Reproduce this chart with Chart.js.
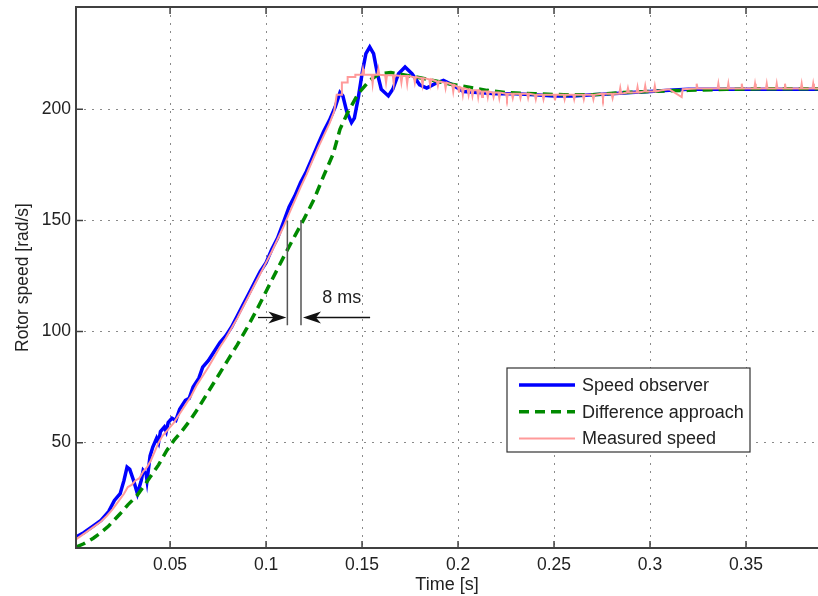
<!DOCTYPE html>
<html>
<head>
<meta charset="utf-8">
<script src="https://cdn.jsdelivr.net/npm/chart.js@4.4.1/dist/chart.umd.min.js"></script>
<style>
  html, body { margin: 0; padding: 0; background: #fff; }
  #wrap { width: 818px; height: 596px; }
</style>
</head>
<body>
<div id="wrap"><canvas id="speedChart" width="818" height="596"></canvas></div>
<script>
// Tick labels
const xTicks = [0.05, 0.1, 0.15, 0.2, 0.25, 0.3, 0.35];
const yTicks = [50, 100, 150, 200];

// Speed observer (blue)
const observerT = [0.001, 0.005, 0.010, 0.014, 0.018, 0.021, 0.024, 0.026, 0.0276, 0.029, 0.031, 0.033, 0.035, 0.036, 0.0375, 0.038, 0.0396, 0.041, 0.043, 0.044, 0.045, 0.047, 0.048, 0.049, 0.051, 0.053, 0.055, 0.058, 0.060, 0.062, 0.065, 0.067, 0.070, 0.073, 0.076, 0.079, 0.082, 0.085, 0.088, 0.091, 0.094, 0.097, 0.100, 0.103, 0.106, 0.109, 0.112, 0.115, 0.118, 0.121, 0.124, 0.127, 0.130, 0.133, 0.136, 0.1385, 0.140, 0.142, 0.1445, 0.146, 0.148, 0.150, 0.152, 0.154, 0.156, 0.158, 0.160, 0.1637, 0.166, 0.169, 0.1724, 0.176, 0.180, 0.1837, 0.188, 0.1924, 0.197, 0.2028, 0.21, 0.22, 0.23, 0.24, 0.25, 0.26, 0.27, 0.28, 0.29, 0.30, 0.31, 0.32, 0.33, 0.34, 0.35, 0.36, 0.37, 0.38, 0.388];
const observerV = [7.5, 9.5, 12.5, 15, 19, 24, 27, 33, 39, 38, 33, 27, 33, 37.5, 36, 33, 44, 48, 52, 50, 55, 57, 55, 59, 61, 60, 65, 69, 70, 75, 79, 84, 87, 91, 95, 98, 102, 107, 112, 117, 122, 127, 131, 137, 142, 149, 156, 161, 167, 172, 178, 184, 190, 195, 201, 207.5, 206, 199, 194, 196, 205, 216, 225, 228, 225, 216, 209, 206, 209, 216, 219, 216, 211, 209.5, 211.5, 213, 211, 208, 207.5, 207, 207, 206.5, 206, 206, 206.5, 207, 207.5, 208, 208.5, 209, 209, 209, 209, 209, 209, 209, 209];

// Difference approach (green dashed)
const diffT = [0.001, 0.005, 0.010, 0.0135, 0.018, 0.024, 0.028, 0.0326, 0.036, 0.0396, 0.044, 0.0483, 0.052, 0.056, 0.0604, 0.065, 0.070, 0.075, 0.080, 0.085, 0.090, 0.095, 0.100, 0.105, 0.110, 0.115, 0.120, 0.125, 0.130, 0.135, 0.1385, 0.1427, 0.148, 0.154, 0.159, 0.165, 0.175, 0.187, 0.195, 0.205, 0.215, 0.225, 0.24, 0.255, 0.27, 0.285, 0.30, 0.32, 0.34, 0.36, 0.388];
const diffV = [3, 4.5, 7, 9.2, 12.5, 18, 22, 26, 30, 34.5, 40, 46.5, 51, 55, 60, 66, 73, 80, 87, 94, 101.5, 109.5, 118, 126.5, 135, 143, 151, 159.5, 170, 180, 191, 198.8, 207, 213, 216, 216.5, 215, 213, 211.5, 210, 208.5, 207.5, 207, 206.5, 206.5, 207.5, 208, 208.5, 209, 209.2, 209.2];

// Measured speed (pink)
const measuredT = [0.001, 0.006, 0.010, 0.014, 0.017, 0.020, 0.023, 0.026, 0.028, 0.030, 0.032, 0.034, 0.036, 0.038, 0.040, 0.042, 0.044, 0.046, 0.048, 0.050, 0.052, 0.055, 0.058, 0.061, 0.064, 0.067, 0.070, 0.073, 0.076, 0.079, 0.082, 0.085, 0.088, 0.091, 0.094, 0.097, 0.100, 0.103, 0.106, 0.109, 0.112, 0.115, 0.118, 0.121, 0.124, 0.127, 0.130, 0.133, 0.1355, 0.1368, 0.1395, 0.1395, 0.1425, 0.1425, 0.1465, 0.1465,
  0.150, 0.1505, 0.151, 0.155, 0.1555, 0.156, 0.158, 0.1585, 0.159, 0.162, 0.1625, 0.163, 0.166, 0.1665, 0.167, 0.170, 0.1705, 0.171, 0.173, 0.1735, 0.174, 0.177, 0.1775, 0.178, 0.181, 0.1815, 0.182, 0.185, 0.1855, 0.186, 0.189, 0.1895, 0.190, 0.193, 0.1935, 0.194, 0.197, 0.1975, 0.198, 0.200, 0.2005, 0.201, 0.202, 0.2025, 0.203, 0.205, 0.2055, 0.206, 0.207, 0.2075, 0.208, 0.210, 0.2105, 0.211, 0.212, 0.2125, 0.213, 0.215, 0.2155, 0.216, 0.218, 0.2185, 0.219, 0.221, 0.2215, 0.222, 0.225, 0.2255, 0.226, 0.228, 0.2285, 0.229, 0.232, 0.2325, 0.233, 0.236, 0.2365, 0.237, 0.240, 0.2405, 0.241, 0.244, 0.2445, 0.245, 0.250, 0.2505, 0.251, 0.255, 0.2555, 0.256, 0.260, 0.2605, 0.261, 0.265, 0.2655, 0.266, 0.270, 0.2705, 0.271, 0.275, 0.2755, 0.276, 0.280, 0.2805, 0.281, 0.284, 0.2845, 0.285, 0.288, 0.2885, 0.289, 0.293, 0.2935, 0.294, 0.297, 0.2975, 0.298, 0.302, 0.3025, 0.303, 0.306, 0.310, 0.3165, 0.317, 0.324, 0.3243, 0.3248, 0.3352, 0.3356, 0.336, 0.3404, 0.3408, 0.3412, 0.3474, 0.3478, 0.3482, 0.3543, 0.3547, 0.3551, 0.3604, 0.3608, 0.3612, 0.3656, 0.366, 0.3664, 0.3699, 0.3703, 0.3707, 0.3786, 0.379, 0.3794, 0.3846, 0.385, 0.3854, 0.388];
const measuredV = [6.5, 9.5, 12, 14.5, 17, 20, 23.5, 27, 30, 31, 33, 34, 37, 39, 42, 46, 50, 53, 55, 57, 59, 63, 67, 71, 76, 80, 84, 88.5, 93, 97, 101.5, 106, 111, 116, 121, 126, 131, 136, 141.5, 147, 153, 159, 165, 170.5, 176.5, 182.5, 188, 193.5, 199, 206.5, 206.5, 212, 212, 214.5, 214.5, 215.5,
  215.5, 218, 215.5, 215.5, 211.5, 215.5, 215.5, 218, 215.5, 215.3, 212, 215.3, 215.3, 211.5, 215.3, 215, 212, 215, 215, 211.5, 215, 214.5, 212, 214.5, 214, 211, 214, 213.5, 211, 213.5, 212.5, 210.5, 212.5, 212, 209.5, 212, 211, 208, 211, 210, 207.5, 210, 209.5, 206.5, 209.5, 209, 206.5, 209, 208.5, 206, 208.5, 208.5, 205.5, 208.5, 208, 205.5, 208, 208, 205.5, 208, 207.5, 205.5, 207.5, 207.5, 205, 207.5, 207, 205, 207, 207, 205, 207, 207, 205, 207, 207, 205, 207, 206.5, 204.5, 206.5, 206.5, 204.5, 206.5, 206.5, 204, 206.5, 206.5, 204.5, 206.5, 206.5, 204.5, 206.5, 206.5, 204.5, 206.5, 206.5, 204.5, 206.5, 207, 205, 207, 207, 205, 207, 207, 209.5, 207, 207.5, 209.5, 207.5, 207.5, 210, 207.5, 208, 210.5, 208, 208, 210.5, 208, 208.5, 209, 205.5, 209, 209.3, 211.5, 209.3, 209.3, 211.5, 209.3, 209.3, 211.5, 209.3, 209.3, 211.5, 209.3, 209.3, 211.5, 209.3, 209.3, 211.5, 209.3, 209.3, 211.5, 209.3, 209.3, 211.5, 209.3, 209.3, 211.5, 209.3, 209.3, 211.5, 209.3, 209.3];

// "8 ms" annotation (data coordinates)
const delayLineT = [0.1111, 0.1182];
const delayLineV = [150, 102.8];
const delayArrowV = 106.3;
const delayArrowFromT = [0.0958, 0.1542];
const delayLabel = '8 ms';
const delayLabelT = 0.1394, delayLabelV = 115;

const toPoints = (ts, vs) => ts.map((t, i) => ({ x: t, y: vs[i] }));

const FONT = '"Liberation Sans", Arial, Helvetica, sans-serif';
Chart.defaults.font.family = FONT;
Chart.defaults.color = '#222';

function arrow(ctx, x0, y0, x1, y1) {
  const dir = Math.sign(x1 - x0);
  ctx.beginPath();
  ctx.moveTo(x0, y0);
  ctx.lineTo(x1 - dir * 10, y1);
  ctx.stroke();
  ctx.beginPath();
  ctx.moveTo(x1, y1);
  ctx.lineTo(x1 - dir * 18, y1 - 6);
  ctx.lineTo(x1 - dir * 13, y1);
  ctx.lineTo(x1 - dir * 18, y1 + 6);
  ctx.closePath();
  ctx.fill();
}

const framePlugin = {
  id: 'frame',
  afterDatasetsDraw(chart) {
    const { ctx, chartArea: a, scales: { x, y } } = chart;
    ctx.save();

    // annotation: two vertical markers and arrows
    ctx.strokeStyle = '#555';
    ctx.lineWidth = 1.5;
    ctx.beginPath();
    delayLineT.forEach(t => {
      const px = x.getPixelForValue(t);
      ctx.moveTo(px, y.getPixelForValue(delayLineV[0]));
      ctx.lineTo(px, y.getPixelForValue(delayLineV[1]));
    });
    ctx.stroke();
    ctx.strokeStyle = '#111';
    ctx.fillStyle = '#111';
    ctx.lineWidth = 1.3;
    const ay = y.getPixelForValue(delayArrowV);
    arrow(ctx, x.getPixelForValue(delayArrowFromT[0]), ay, x.getPixelForValue(delayLineT[0]) - 1, ay);
    arrow(ctx, x.getPixelForValue(delayArrowFromT[1]), ay, x.getPixelForValue(delayLineT[1]) + 2, ay);
    ctx.font = '18px ' + FONT;
    ctx.fillStyle = '#222';
    ctx.textAlign = 'center';
    ctx.textBaseline = 'middle';
    ctx.fillText(delayLabel, x.getPixelForValue(delayLabelT), y.getPixelForValue(delayLabelV));

    // inward tick marks
    ctx.strokeStyle = '#404040';
    ctx.lineWidth = 1.5;
    ctx.beginPath();
    xTicks.forEach(t => {
      const px = x.getPixelForValue(t);
      ctx.moveTo(px, a.bottom); ctx.lineTo(px, a.bottom - 7);
      ctx.moveTo(px, a.top); ctx.lineTo(px, a.top + 7);
    });
    yTicks.forEach(v => {
      const py = y.getPixelForValue(v);
      ctx.moveTo(a.left, py); ctx.lineTo(a.left + 7, py);
    });
    ctx.stroke();

    // axes box (right side lies off the picture)
    ctx.lineWidth = 2;
    ctx.beginPath();
    ctx.moveTo(a.right + 2, a.top);
    ctx.lineTo(a.left, a.top);
    ctx.lineTo(a.left, a.bottom);
    ctx.lineTo(a.right + 2, a.bottom);
    ctx.stroke();

    // legend box inside the axes
    const lx = a.left + 431, ly = a.top + 361, lw = 243, lh = 84;
    ctx.fillStyle = '#fff';
    ctx.fillRect(lx, ly, lw, lh);
    ctx.strokeStyle = '#333';
    ctx.lineWidth = 1.2;
    ctx.strokeRect(lx, ly, lw, lh);
    ctx.font = '18px ' + FONT;
    ctx.textAlign = 'left';
    ctx.textBaseline = 'middle';
    const rows = [0, 1, 2];
    rows.forEach(i => {
      const ds = chart.data.datasets[i];
      const ry = ly + 17 + i * 26.7;
      ctx.strokeStyle = ds.borderColor;
      ctx.lineWidth = ds.borderWidth;
      ctx.setLineDash(ds.borderDash || []);
      ctx.beginPath();
      ctx.moveTo(lx + 12, ry);
      ctx.lineTo(lx + 68, ry);
      ctx.stroke();
      ctx.setLineDash([]);
      ctx.fillStyle = '#222';
      ctx.fillText(ds.label, lx + 75, ry + 1);
    });
    ctx.restore();
  }
};

new Chart(document.getElementById('speedChart'), {
  type: 'line',
  data: {
    datasets: [
      {
        label: 'Speed observer',
        data: toPoints(observerT, observerV),
        borderColor: '#0000ff',
        borderWidth: 3.5,
        order: 2
      },
      {
        label: 'Difference approach',
        data: toPoints(diffT, diffV),
        borderColor: '#008a00',
        borderWidth: 3.5,
        borderDash: [10, 6],
        order: 1
      },
      {
        label: 'Measured speed',
        data: toPoints(measuredT, measuredV),
        borderColor: '#ff9a9a',
        borderWidth: 2,
        order: 0
      }
    ]
  },
  options: {
    responsive: false,
    animation: false,
    events: [],
    elements: { point: { radius: 0 }, line: { tension: 0 } },
    layout: { padding: { top: 7, right: 0, left: 0, bottom: 0 } },
    plugins: { legend: { display: false }, tooltip: { enabled: false } },
    scales: {
      x: {
        type: 'linear',
        min: 0.001,
        max: 0.3875,
        afterBuildTicks: s => { s.ticks = xTicks.map(v => ({ value: v })); },
        afterFit: s => { s.height = 48; s.paddingLeft = 0; s.paddingRight = 0; },
        ticks: {
          padding: 7,
          font: { size: 17.5 },
          color: '#222',
          maxRotation: 0,
          autoSkip: false,
          callback: v => String(v)
        },
        grid: { color: '#8a8a8a', lineWidth: 1, drawTicks: false },
        border: { display: false, dash: [2, 6] },
        title: {
          display: true,
          text: 'Time [s]',
          font: { size: 18, lineHeight: 1.2 },
          color: '#222',
          padding: { top: 0, bottom: 0 }
        }
      },
      y: {
        type: 'linear',
        min: 2.6,
        max: 246,
        afterBuildTicks: s => { s.ticks = yTicks.map(v => ({ value: v })); },
        afterFit: s => { s.width = 76; s.paddingTop = 0; s.paddingBottom = 0; },
        ticks: {
          padding: 5,
          font: { size: 17.5 },
          color: '#222',
          callback: v => String(v)
        },
        grid: { color: '#8a8a8a', lineWidth: 1, drawTicks: false },
        border: { display: false, dash: [2, 6] },
        title: {
          display: true,
          text: 'Rotor speed [rad/s]',
          font: { size: 17.5, lineHeight: 1.2 },
          color: '#222',
          padding: { top: 13, bottom: 0 }
        }
      }
    }
  },
  plugins: [framePlugin]
});
</script>
</body>
</html>
